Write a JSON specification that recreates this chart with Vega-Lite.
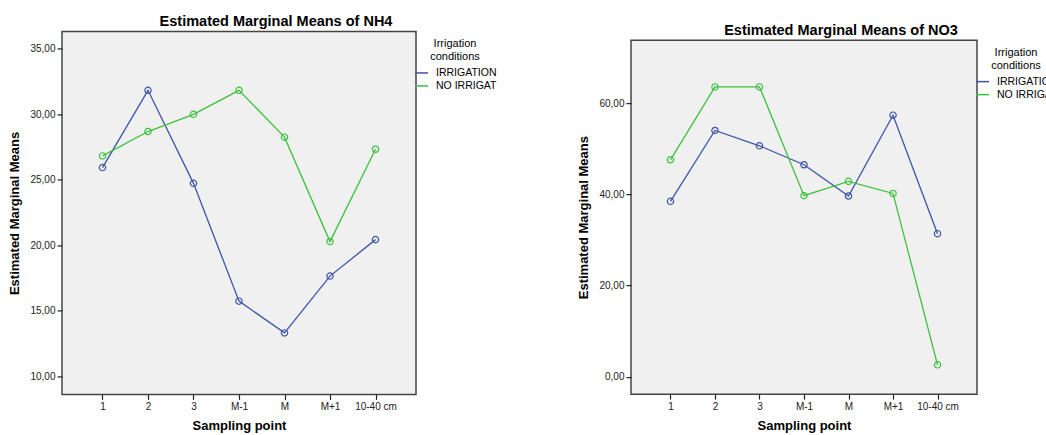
{
  "$schema": "https://vega.github.io/schema/vega-lite/v6.json",
  "background": "white",
  "padding": {"left": 8, "top": 13, "right": 0, "bottom": 0},
  "spacing": 72,
  "center": true,
  "datasets": {
    "nh4": [
      {"point": "1", "condition": "IRRIGATION", "value": 25.92},
      {"point": "2", "condition": "IRRIGATION", "value": 31.81},
      {"point": "3", "condition": "IRRIGATION", "value": 24.72},
      {"point": "M-1", "condition": "IRRIGATION", "value": 15.74},
      {"point": "M", "condition": "IRRIGATION", "value": 13.32},
      {"point": "M+1", "condition": "IRRIGATION", "value": 17.65},
      {"point": "10-40 cm", "condition": "IRRIGATION", "value": 20.43},
      {"point": "1", "condition": "NO IRRIGAT", "value": 26.81},
      {"point": "2", "condition": "NO IRRIGAT", "value": 28.67},
      {"point": "3", "condition": "NO IRRIGAT", "value": 29.98},
      {"point": "M-1", "condition": "NO IRRIGAT", "value": 31.81},
      {"point": "M", "condition": "NO IRRIGAT", "value": 28.24},
      {"point": "M+1", "condition": "NO IRRIGAT", "value": 20.28},
      {"point": "10-40 cm", "condition": "NO IRRIGAT", "value": 27.32}
    ],
    "no3": [
      {"point": "1", "condition": "IRRIGATION", "value": 38.47},
      {"point": "2", "condition": "IRRIGATION", "value": 54.0},
      {"point": "3", "condition": "IRRIGATION", "value": 50.63},
      {"point": "M-1", "condition": "IRRIGATION", "value": 46.48},
      {"point": "M", "condition": "IRRIGATION", "value": 39.63},
      {"point": "M+1", "condition": "IRRIGATION", "value": 57.35},
      {"point": "10-40 cm", "condition": "IRRIGATION", "value": 31.38},
      {"point": "1", "condition": "NO IRRIGAT", "value": 47.57},
      {"point": "2", "condition": "NO IRRIGAT", "value": 63.55},
      {"point": "3", "condition": "NO IRRIGAT", "value": 63.55},
      {"point": "M-1", "condition": "NO IRRIGAT", "value": 39.7},
      {"point": "M", "condition": "NO IRRIGAT", "value": 42.84},
      {"point": "M+1", "condition": "NO IRRIGAT", "value": 40.2},
      {"point": "10-40 cm", "condition": "NO IRRIGAT", "value": 2.63}
    ]
  },
  "config": {
    "font": "Liberation Sans",
    "view": {"fill": "#f0f0f0", "stroke": "#444444", "strokeWidth": 1.5},
    "title": {"fontSize": 14.5, "fontWeight": "bold", "color": "#000000", "anchor": "middle", "offset": 2, "dx": 37},
    "axis": {
      "grid": false,
      "domain": false,
      "tickColor": "#222222",
      "tickSize": 5,
      "tickWidth": 1.2,
      "labelFont": "Liberation Sans",
      "labelFontSize": 10,
      "labelColor": "#222222",
      "labelPadding": 2,
      "titleFont": "Liberation Sans",
      "titleFontSize": 13,
      "titleFontWeight": "bold",
      "titleColor": "#000000"
    },
    "legend": {
      "orient": "right",
      "offset": -9,
      "padding": 7,
      "titleFontSize": 11,
      "titleFontWeight": "normal",
      "titleColor": "#000000",
      "titleAnchor": "middle",
      "titleAlign": "center",
      "titlePadding": 3,
      "labelFontSize": 10.5,
      "labelColor": "#000000",
      "labelOffset": 7,
      "symbolType": "stroke",
      "symbolSize": 170,
      "symbolStrokeWidth": 1.5,
      "rowPadding": 0
    }
  },
  "resolve": {"scale": {"y": "independent", "x": "independent", "color": "independent"}, "legend": {"color": "independent"}},
  "hconcat": [
    {
      "width": 354,
      "height": 363,
      "title": "Estimated Marginal Means of NH4",
      "data": {"name": "nh4"},
      "encoding": {
        "x": {
          "field": "point",
          "type": "ordinal",
          "sort": ["1", "2", "3", "M-1", "M", "M+1", "10-40 cm"],
          "scale": {"type": "point", "padding": 0.89},
          "axis": {"labelAngle": 0, "title": ["Sampling point", " "], "titleLineHeight": 8.4, "titlePadding": 8}
        },
        "y": {
          "field": "value",
          "type": "quantitative",
          "scale": {"domain": [8.63, 36.3], "nice": false, "zero": false},
          "axis": {
            "values": [10, 15, 20, 25, 30, 35],
            "labelExpr": "replace(format(datum.value, '.2f'), '.', ',')",
            "title": "Estimated Marginal Means",
            "titlePadding": 8
          }
        },
        "color": {
          "field": "condition",
          "type": "nominal",
          "scale": {"domain": ["IRRIGATION", "NO IRRIGAT"], "range": ["#3d55a9", "#3dc13d"]},
          "legend": {"title": ["Irrigation", "conditions"]}
        }
      },
      "layer": [
        {"mark": {"type": "line", "strokeWidth": 1.3}},
        {"mark": {"type": "point", "shape": "circle", "filled": false, "size": 40, "strokeWidth": 1.2, "opacity": 1}}
      ]
    },
    {
      "width": 346,
      "height": 354,
      "title": "Estimated Marginal Means of NO3",
      "data": {"name": "no3"},
      "encoding": {
        "x": {
          "field": "point",
          "type": "ordinal",
          "sort": ["1", "2", "3", "M-1", "M", "M+1", "10-40 cm"],
          "scale": {"type": "point", "padding": 0.887},
          "axis": {"labelAngle": 0, "title": "Sampling point", "titlePadding": 8}
        },
        "y": {
          "field": "value",
          "type": "quantitative",
          "scale": {"domain": [-3.79, 73.8], "nice": false, "zero": false},
          "axis": {
            "values": [0, 20, 40, 60],
            "labelExpr": "replace(format(datum.value, '.2f'), '.', ',')",
            "title": "Estimated Marginal Means",
            "titlePadding": 8
          }
        },
        "color": {
          "field": "condition",
          "type": "nominal",
          "scale": {"domain": ["IRRIGATION", "NO IRRIGAT"], "range": ["#3d55a9", "#3dc13d"]},
          "legend": {"title": ["Irrigation", "conditions"]}
        }
      },
      "layer": [
        {"mark": {"type": "line", "strokeWidth": 1.3}},
        {"mark": {"type": "point", "shape": "circle", "filled": false, "size": 40, "strokeWidth": 1.2, "opacity": 1}}
      ]
    }
  ]
}
